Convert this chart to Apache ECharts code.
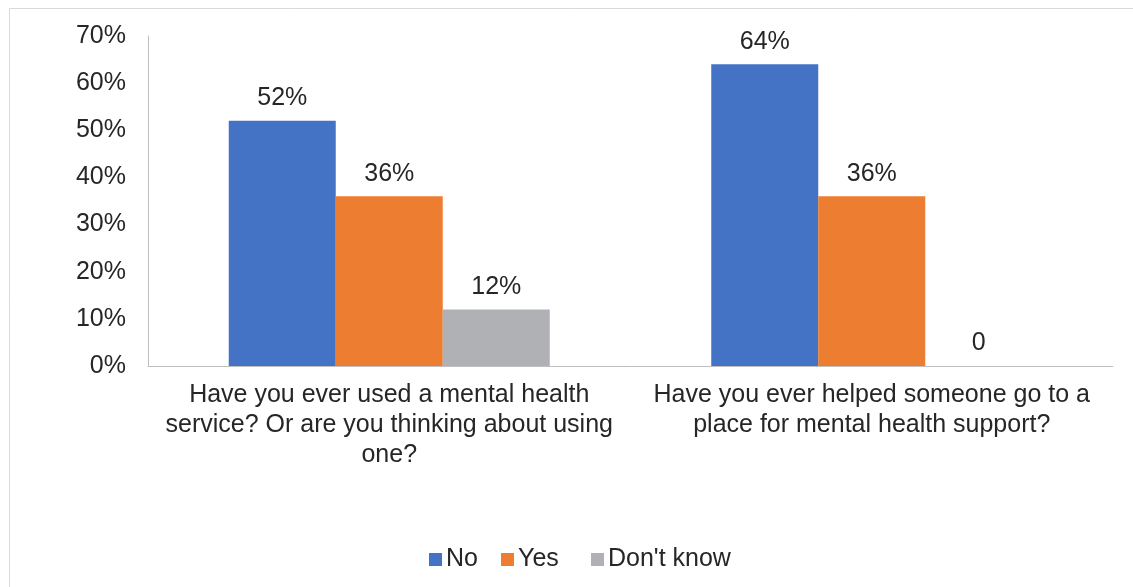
<!DOCTYPE html>
<html>
<head>
<meta charset="utf-8">
<script src="https://cdn.jsdelivr.net/npm/echarts@6/dist/echarts.min.js"></script>
<style>
  html, body { margin: 0; padding: 0; background: #fff; }
  #chart { width: 1133px; height: 587px; }
</style>
</head>
<body>
<div id="chart"></div>
<script>
// Survey questions shown along the category axis
const categories = [
  'Have you ever used a mental health\nservice? Or are you thinking about using\none?',
  'Have you ever helped someone go to a\nplace for mental health support?'
];
// Share of respondents per answer, in percent
const noValues = [52, 64];
const yesValues = [36, 36];
const dontKnowValues = [12, 0];
const seriesNames = ['No', 'Yes', "Don't know"];
const seriesColors = ['#4472C4', '#ED7D31', '#B0B1B5'];

const FONT = '"Liberation Sans", Arial, sans-serif';
const TEXT = '#262626';

const chart = echarts.init(document.getElementById('chart'));

function pctLabel(p) {
  return p.value === 0 ? '0' : p.value + '%';
}

const seriesData = [noValues, yesValues, dontKnowValues];

// one legend entry per series, placed side by side along the bottom
const legendLeft = [424, 496, 586];
const legends = seriesNames.map((name, i) => ({
  data: [name],
  left: legendLeft[i],
  top: 542,
  itemWidth: 13,
  itemHeight: 13,
  icon: 'rect',
  textStyle: { fontFamily: FONT, fontSize: 25, color: TEXT, padding: [0, 0, 0, -1] }
}));

chart.setOption({
  backgroundColor: '#fff',
  animation: false,
  textStyle: { fontFamily: FONT },
  graphic: [{
    type: 'rect',
    shape: { x: 9.5, y: 8.5, width: 1140, height: 600 },
    style: { fill: 'none', stroke: '#D9D9D9', lineWidth: 1 },
    silent: true,
    z: -1
  }],
  grid: { left: 148, right: 20, top: 36, bottom: 221, containLabel: false },
  legend: legends,
  xAxis: {
    type: 'category',
    data: categories,
    axisLine: { lineStyle: { color: '#BFBFBF', width: 1 } },
    axisTick: { show: false },
    axisLabel: {
      fontFamily: FONT,
      fontSize: 25,
      lineHeight: 30,
      color: TEXT,
      margin: 14,
      interval: 0,
      align: 'center'
    }
  },
  yAxis: {
    type: 'value',
    min: 0,
    max: 70,
    interval: 10,
    axisLine: { show: true, lineStyle: { color: '#BFBFBF', width: 1 } },
    axisTick: { show: false },
    splitLine: { show: false },
    axisLabel: {
      fontFamily: FONT,
      fontSize: 25,
      color: TEXT,
      margin: 22,
      formatter: v => v + '%'
    }
  },
  series: seriesNames.map((name, i) => ({
    name: name,
    type: 'bar',
    data: seriesData[i],
    barWidth: 107,
    barGap: '0%',
    itemStyle: { color: seriesColors[i] },
    label: {
      show: true,
      position: 'top',
      distance: 10,
      fontFamily: FONT,
      fontSize: 25,
      color: TEXT,
      formatter: pctLabel
    }
  }))
});
</script>
</body>
</html>
